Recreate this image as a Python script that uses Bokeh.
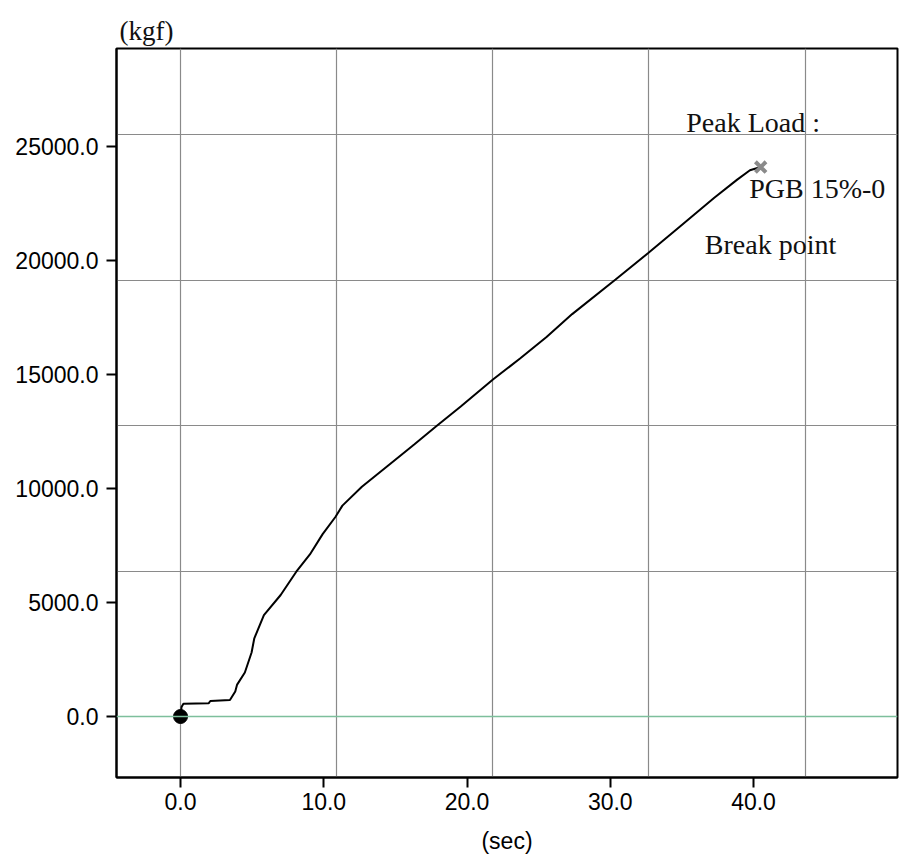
from bokeh.plotting import figure
from bokeh.models import FixedTicker, PrintfTickFormatter, Span, Range1d
from bokeh.core.properties import value
from bokeh.embed import file_html
from bokeh.resources import INLINE

# Load-time record (sec, kgf)
time_s = [0.0, 0.07, 0.2, 1.96, 2.08, 3.45, 3.82, 3.95, 4.49, 4.96, 5.15, 5.82,
          6.99, 8.08, 9.03, 9.92, 10.81, 11.3, 12.66, 14.52, 16.31, 17.83, 19.56,
          21.83, 23.7, 25.55, 27.34, 30.37, 32.65, 34.93, 37.26, 38.86, 39.75, 40.5]
load_kgf = [0, 420, 560, 580, 680, 720, 1100, 1400, 1930, 2810, 3430, 4450,
            5330, 6350, 7110, 8000, 8750, 9250, 10080, 11020, 11930, 12720, 13600,
            14790, 15700, 16650, 17650, 19170, 20330, 21530, 22750, 23550, 23960, 24100]

# Break point (peak load)
peak_time = [40.5]
peak_load = [24100]

# Axis ticks and grid divisions
x_ticks = [0, 10, 20, 30, 40]
y_ticks = [0, 5000, 10000, 15000, 20000, 25000]
grid_x = [0, 10.9, 21.8, 32.7, 43.6]
grid_y = [6380, 12760, 19140, 25520]

notes = ["Peak Load :", "PGB 15%-0", "Break point"]

p = figure(width=903, height=856, output_backend="svg", toolbar_location=None,
           x_range=Range1d(-4.47, 50.05), y_range=Range1d(-2675, 29300),
           min_border_left=116, min_border_right=6, min_border_top=48,
           min_border_bottom=79, title="(kgf)")
p.background_fill_color = "white"
p.border_fill_color = "white"
p.outline_line_color = "black"
p.outline_line_width = 2

# unit caption above the load axis
p.title.text_font = "Liberation Serif"
p.title.text_font_size = "27px"
p.title.text_font_style = "normal"
p.title.text_color = "#111111"
p.title.align = "left"
p.title.offset = 3
p.title.standoff = 5

tick_font = "Liberation Sans"
for ax, ticks in ((p.xaxis, x_ticks), (p.yaxis, y_ticks)):
    ax.ticker = FixedTicker(ticks=ticks)
    ax.formatter = PrintfTickFormatter(format="%.1f")
    ax.major_label_text_font = tick_font
    ax.major_label_text_font_size = "23px"
    ax.major_label_text_color = "#000000"
    ax.major_tick_out = 10
    ax.major_tick_in = 0
    ax.major_tick_line_width = 2
    ax.major_tick_line_color = "black"
    ax.minor_tick_line_color = None
    ax.axis_line_color = "black"
    ax.axis_line_width = 2

p.xaxis.major_label_standoff = 5
p.yaxis.major_label_standoff = 8
p.xaxis.axis_label = "(sec)"
p.xaxis.axis_label_text_font = tick_font
p.xaxis.axis_label_text_font_size = "23px"
p.xaxis.axis_label_text_font_style = "normal"
p.xaxis.axis_label_text_color = "#000000"
p.xaxis.axis_label_standoff = 15

p.xgrid.ticker = FixedTicker(ticks=grid_x)
p.ygrid.ticker = FixedTicker(ticks=grid_y)
for g in (p.xgrid, p.ygrid):
    g.grid_line_color = "#8a8a8a"
    g.grid_line_width = 1.2

# zero-load reference line
p.add_layout(Span(location=0, dimension="width", line_color="#7dbf9c", line_width=1.5))

p.line(time_s, load_kgf, line_color="black", line_width=2)
p.scatter([time_s[0]], [load_kgf[0]], marker="circle", size=14, color="black")
p.scatter(peak_time, peak_load, marker="x", size=15, line_width=4,
          line_color="#8a8a8a")

p.text(x=[35.3, 39.7, 36.6], y=[26060, 23170, 20720], text=notes,
       text_font=value("Liberation Serif"), text_font_size="28px",
       text_color="#111111", text_baseline="alphabetic", text_align="left")

open("out.html", "w").write(file_html(p, INLINE))
